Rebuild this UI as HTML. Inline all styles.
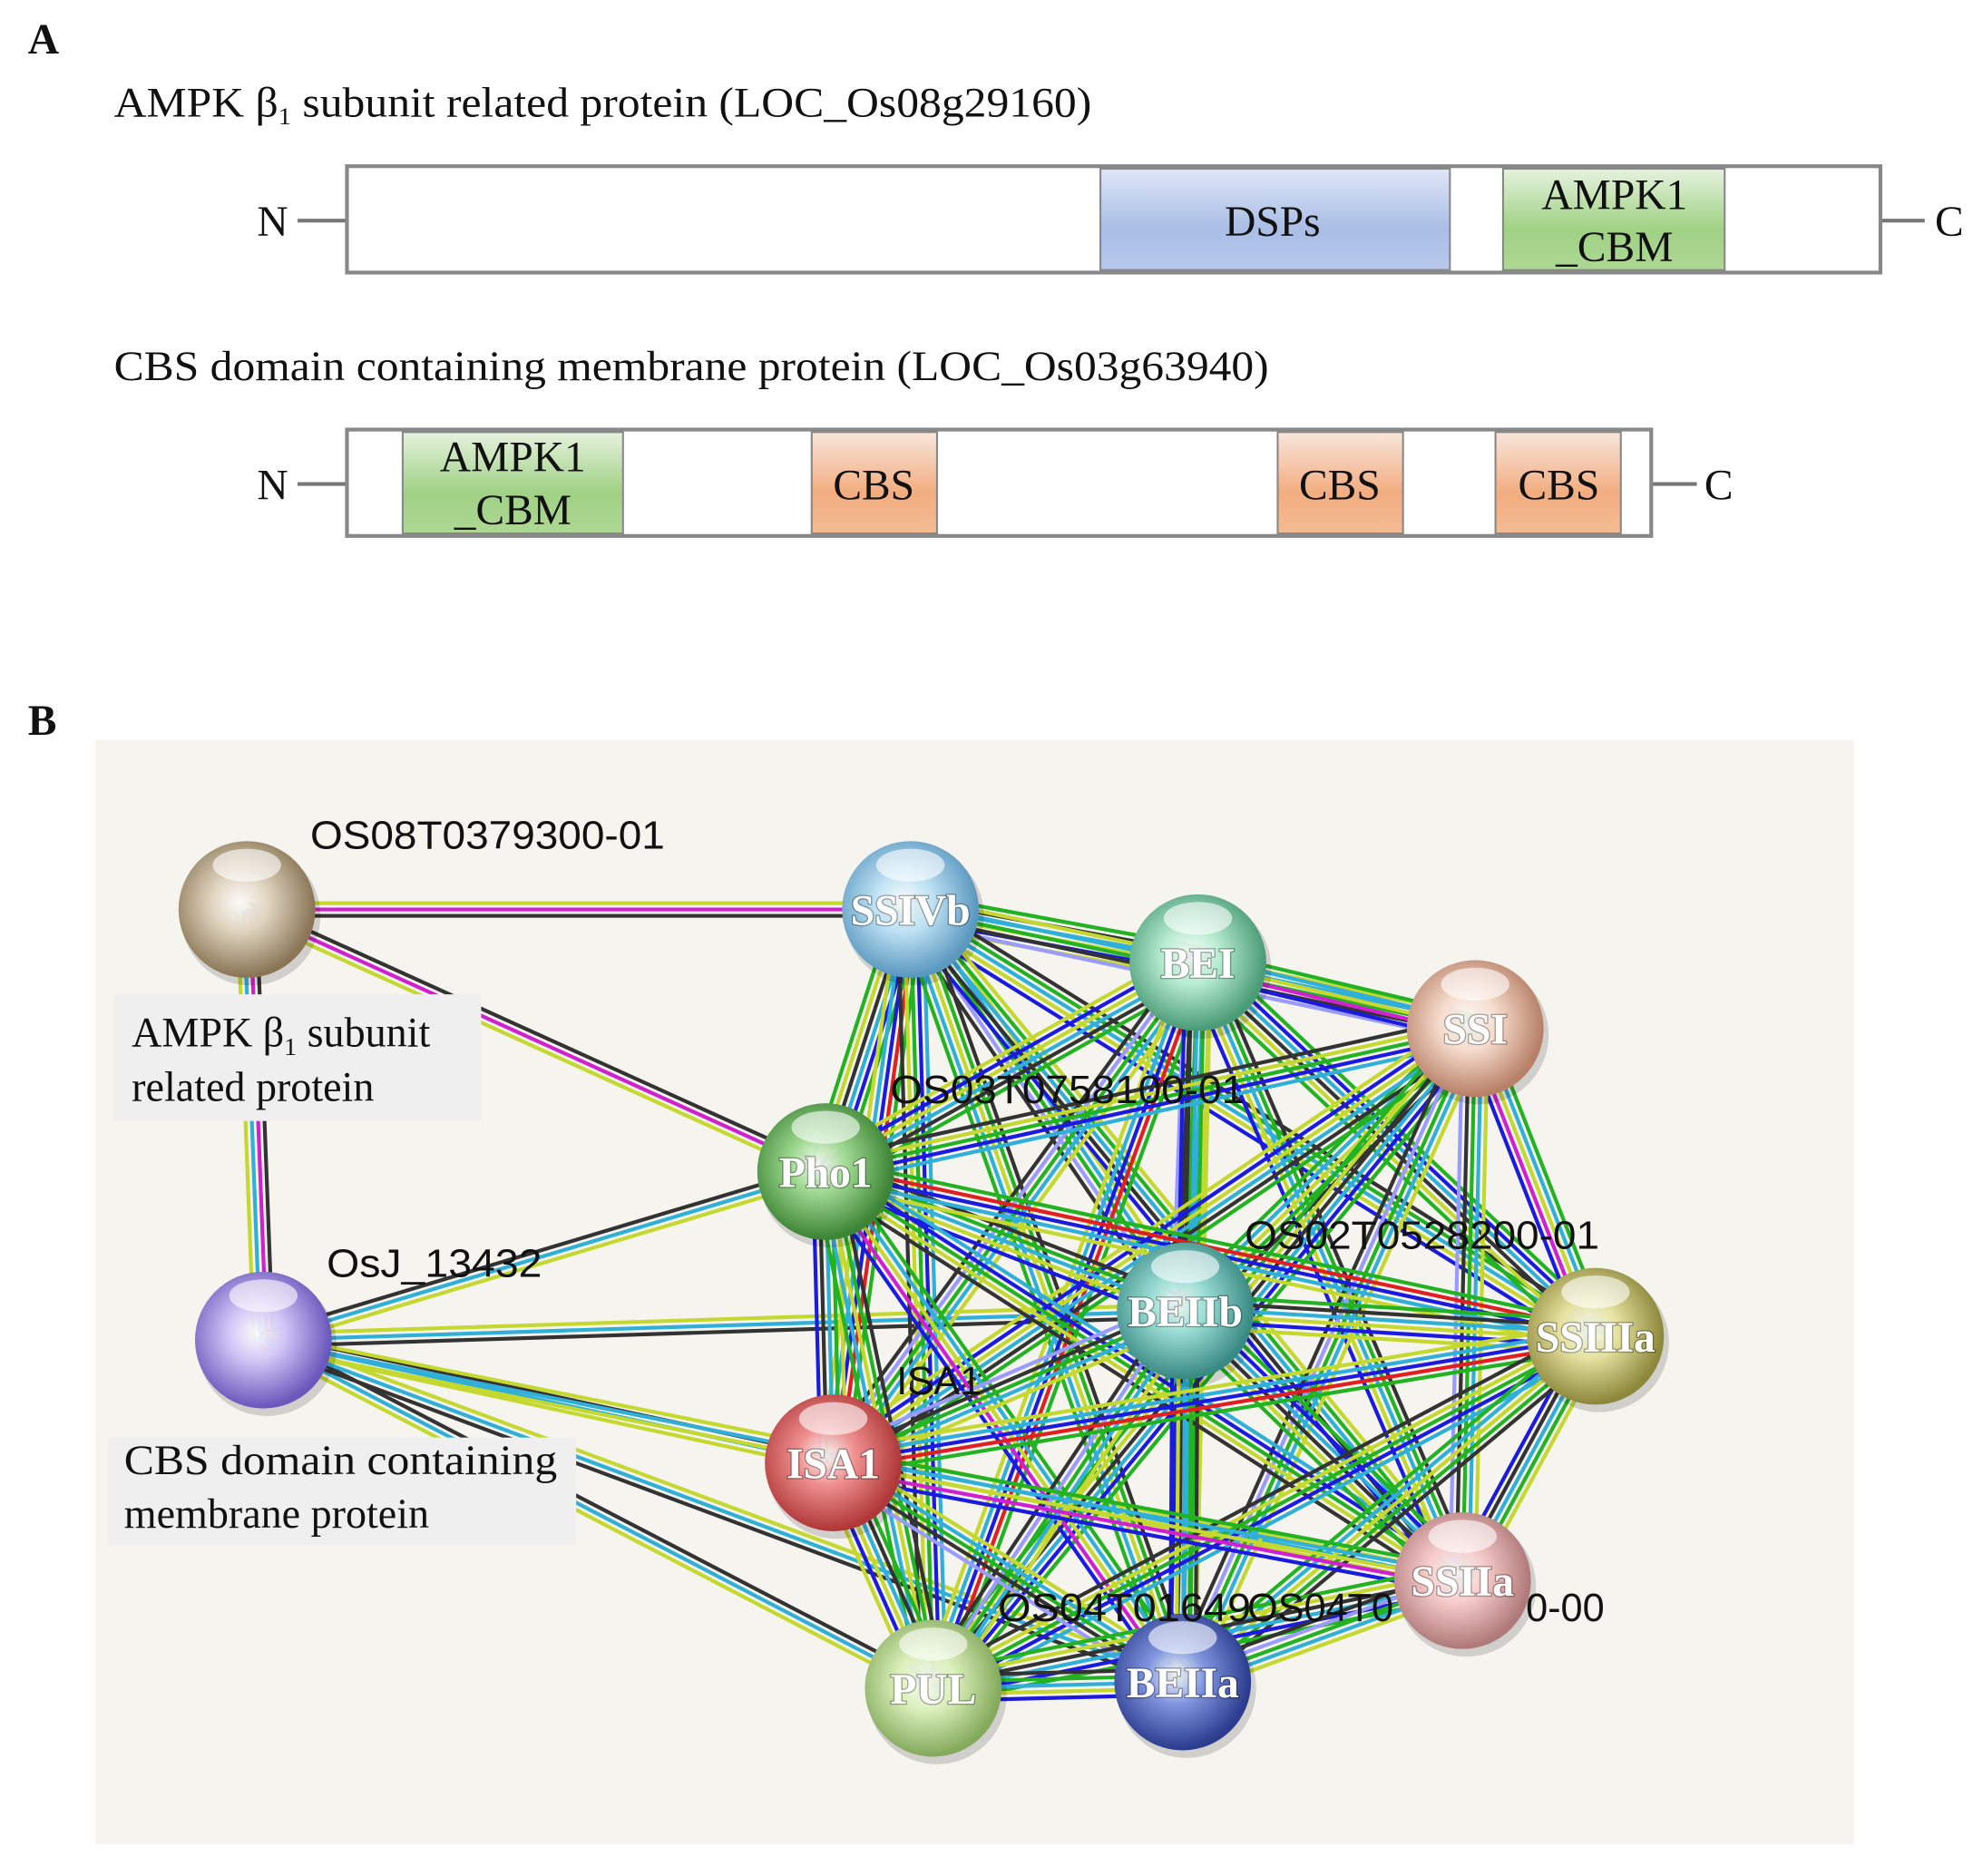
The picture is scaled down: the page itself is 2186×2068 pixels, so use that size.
<!DOCTYPE html>
<html><head><meta charset="utf-8"><style>
html,body{margin:0;padding:0;background:#fff;width:2186px;height:2068px;overflow:hidden}
svg{display:block}
.t{font-family:"Liberation Serif",serif;fill:#111}
.a{font-family:"Liberation Sans",sans-serif;fill:#111}
.nl{font-family:"Liberation Serif",serif;font-weight:bold;fill:#fff;font-size:34px;text-anchor:middle;paint-order:stroke;stroke:rgba(0,0,0,0.3);stroke-width:2px}
</style></head><body>
<svg id="s" width="2186" height="2068" viewBox="0 0 1566 1481" xmlns="http://www.w3.org/2000/svg">
<defs>
<linearGradient id="gb" x1="0" y1="0" x2="0" y2="1"><stop offset="0" stop-color="#dfe6f7"/><stop offset="0.6" stop-color="#a9bde6"/><stop offset="1" stop-color="#b9c9ec"/></linearGradient>
<linearGradient id="gg" x1="0" y1="0" x2="0" y2="1"><stop offset="0" stop-color="#e6f2de"/><stop offset="0.6" stop-color="#9fd184"/><stop offset="1" stop-color="#aed894"/></linearGradient>
<linearGradient id="go" x1="0" y1="0" x2="0" y2="1"><stop offset="0" stop-color="#f8e6dc"/><stop offset="0.6" stop-color="#f2ad80"/><stop offset="1" stop-color="#f4bb94"/></linearGradient>
</defs>
<text class="t" x="22" y="42" font-size="34" font-weight="bold">A</text>
<text class="t" x="90" y="92" font-size="33" textLength="772" lengthAdjust="spacingAndGlyphs">AMPK β<tspan font-size="19" dy="6">1</tspan><tspan dy="-6"> subunit related protein (LOC_Os08g29160)</tspan></text>
<line x1="235" y1="174" x2="274" y2="174" stroke="#777" stroke-width="3"/>
<line x1="1485" y1="174" x2="1520" y2="174" stroke="#777" stroke-width="3"/>
<text class="t" x="203" y="186" font-size="34">N</text>
<text class="t" x="1528" y="186" font-size="34">C</text>
<rect x="274" y="131" width="1211" height="84" fill="#fff" stroke="#888" stroke-width="3"/>
<rect x="869" y="133" width="276" height="80" fill="url(#gb)" stroke="#888" stroke-width="1.5"/>
<rect x="1187" y="133" width="175" height="80" fill="url(#gg)" stroke="#888" stroke-width="1.5"/>
<text class="t" x="1005" y="186" font-size="34" text-anchor="middle">DSPs</text>
<text class="t" x="1275" y="165" font-size="34" text-anchor="middle">AMPK1</text>
<text class="t" x="1275" y="206" font-size="34" text-anchor="middle">_CBM</text>

<text class="t" x="90" y="300" font-size="33" textLength="912" lengthAdjust="spacingAndGlyphs">CBS domain containing membrane protein (LOC_Os03g63940)</text>
<line x1="235" y1="382" x2="274" y2="382" stroke="#777" stroke-width="3"/>
<line x1="1304" y1="382" x2="1340" y2="382" stroke="#777" stroke-width="3"/>
<text class="t" x="203" y="394" font-size="34">N</text>
<text class="t" x="1346" y="394" font-size="34">C</text>
<rect x="274" y="339" width="1030" height="84" fill="#fff" stroke="#888" stroke-width="3"/>
<rect x="318" y="341" width="174" height="80" fill="url(#gg)" stroke="#888" stroke-width="1.5"/>
<rect x="641" y="341" width="99" height="80" fill="url(#go)" stroke="#888" stroke-width="1.5"/>
<rect x="1009" y="341" width="99" height="80" fill="url(#go)" stroke="#888" stroke-width="1.5"/>
<rect x="1181" y="341" width="99" height="80" fill="url(#go)" stroke="#888" stroke-width="1.5"/>
<text class="t" x="405" y="372" font-size="34" text-anchor="middle">AMPK1</text>
<text class="t" x="405" y="414" font-size="34" text-anchor="middle">_CBM</text>
<text class="t" x="690" y="394" font-size="34" text-anchor="middle">CBS</text>
<text class="t" x="1058" y="394" font-size="34" text-anchor="middle">CBS</text>
<text class="t" x="1231" y="394" font-size="34" text-anchor="middle">CBS</text>

<text class="t" x="22" y="580" font-size="34" font-weight="bold">B</text>
<rect x="75" y="584" width="1389" height="872" fill="#f6f4ef"/>
<g id="edges"></g>
<rect x="90" y="785" width="290" height="100" fill="#efefef"/>
<rect x="85" y="1135" width="370" height="85" fill="#efefef"/>
<text class="t" x="104" y="826" font-size="33">AMPK β<tspan font-size="20" dy="7">1</tspan><tspan dy="-7"> subunit</tspan></text>
<text class="t" x="104" y="869" font-size="33">related protein</text>
<text class="t" x="98" y="1164" font-size="33" textLength="342" lengthAdjust="spacingAndGlyphs">CBS domain containing</text>
<text class="t" x="98" y="1206" font-size="33">membrane protein</text>
<g id="nodes"></g>
<g font-size="31">
<text class="a" x="245" y="670" textLength="280" lengthAdjust="spacingAndGlyphs">OS08T0379300-01</text>
<text class="a" x="703" y="871" textLength="280" lengthAdjust="spacingAndGlyphs">OS03T0758100-01</text>
<text class="a" x="983" y="986" textLength="280" lengthAdjust="spacingAndGlyphs">OS02T0528200-01</text>
<text class="a" x="258" y="1008" textLength="170" lengthAdjust="spacingAndGlyphs">OsJ_13432</text>
<text class="a" x="708" y="1101">ISA1</text>
<text class="a" x="788" y="1280" textLength="200" lengthAdjust="spacingAndGlyphs">OS04T01649</text>
<text class="a" x="985" y="1280">OS04T0</text>
<text class="a" x="1205" y="1280">0-00</text>
</g>
</svg>
<script>
var N={OS08:[195,718,'#e0d4c0','#8a7656',''],SSIVb:[719,718,'#c0e2f4','#5a98c0','SSIVb'],BEI:[946,760,'#b8ecd0','#4a9c76','BEI'],SSI:[1165,812,'#f6dccc','#b88068','SSI'],Pho1:[652,925,'#9ed890','#3c8436','Pho1'],BEIIb:[936,1035,'#98dcd4','#3a8a84','BEIIb'],SSIIIa:[1260,1055,'#e6e2a0','#8e883c','SSIIIa'],OsJ:[208,1058,'#d0c4f6','#6a58bc',''],ISA1:[658,1155,'#f09090','#b03838','ISA1'],SSIIa:[1155,1248,'#f8cccc','#b07a7a','SSIIa'],PUL:[737,1333,'#dcf0bc','#84aa5c','PUL'],BEIIa:[934,1328,'#8096e0','#2c3c8e','BEIIa']};
var C={k:'#333',g:'#22b222',l:'#c4d830',c:'#30b0d8',b:'#1a1ae0',m:'#d020d0',r:'#e02020',p:'#9a9aff'};
var ns='http://www.w3.org/2000/svg',E=document.getElementById('edges');
function edge(a,b,cols){var A=N[a],B=N[b],dx=B[0]-A[0],dy=B[1]-A[1],L=Math.hypot(dx,dy),px=-dy/L,py=dx/L,n=cols.length;
for(var i=0;i<n;i++){var o=(i-(n-1)/2)*5;var l=document.createElementNS(ns,'line');
l.setAttribute('x1',A[0]+px*o);l.setAttribute('y1',A[1]+py*o);l.setAttribute('x2',B[0]+px*o);l.setAttribute('y2',B[1]+py*o);
l.setAttribute('stroke',C[cols[i]]);l.setAttribute('stroke-width',3);E.appendChild(l);}}
edge('OS08','SSIVb','lmk');edge('OS08','Pho1','kml');edge('OS08','OsJ','kmcl');
edge('OsJ','Pho1','kcl');edge('OsJ','BEIIb','lck');edge('OsJ','ISA1','kcl');edge('OsJ','PUL','kcl');edge('OsJ','BEIIa','lck');edge('OsJ','SSIIa','lcl');
var S=['SSIVb','BEI','SSI','Pho1','BEIIb','SSIIIa','ISA1','SSIIa','PUL','BEIIa'];
var sets=['gkclbl','lcgkp','gbcklg','lcgpk','kgclb','grbcl','lgckb','cbglk','kglcg','gclmb'];
var q=0;for(var i=0;i<S.length;i++)for(var j=i+1;j<S.length;j++){edge(S[i],S[j],sets[q%sets.length]);q++;}
var G=document.getElementById('nodes'),d=document.querySelector('defs'),h='';
for(var k in N){var v=N[k];
h+='<radialGradient id="r'+k+'" cx="0.45" cy="0.45" r="0.6"><stop offset="0" stop-color="#fff" stop-opacity="0.9"/><stop offset="0.35" stop-color="'+v[2]+'"/><stop offset="0.9" stop-color="'+v[3]+'"/><stop offset="1" stop-color="'+v[3]+'"/></radialGradient>';}
d.insertAdjacentHTML('beforeend',h);
var g='';for(var k in N){var v=N[k];
g+='<circle cx="'+(v[0]+3)+'" cy="'+(v[1]+5)+'" r="55" fill="rgba(0,0,0,0.15)"/>';
g+='<circle cx="'+v[0]+'" cy="'+v[1]+'" r="54" fill="url(#r'+k+')"/>';
g+='<ellipse cx="'+v[0]+'" cy="'+(v[1]-35)+'" rx="27" ry="13" fill="rgba(255,255,255,0.6)"/>';
if(v[4])g+='<text class="nl" x="'+v[0]+'" y="'+(v[1]+12)+'">'+v[4]+'</text>';}
G.innerHTML=g;
</script>
</body></html>
